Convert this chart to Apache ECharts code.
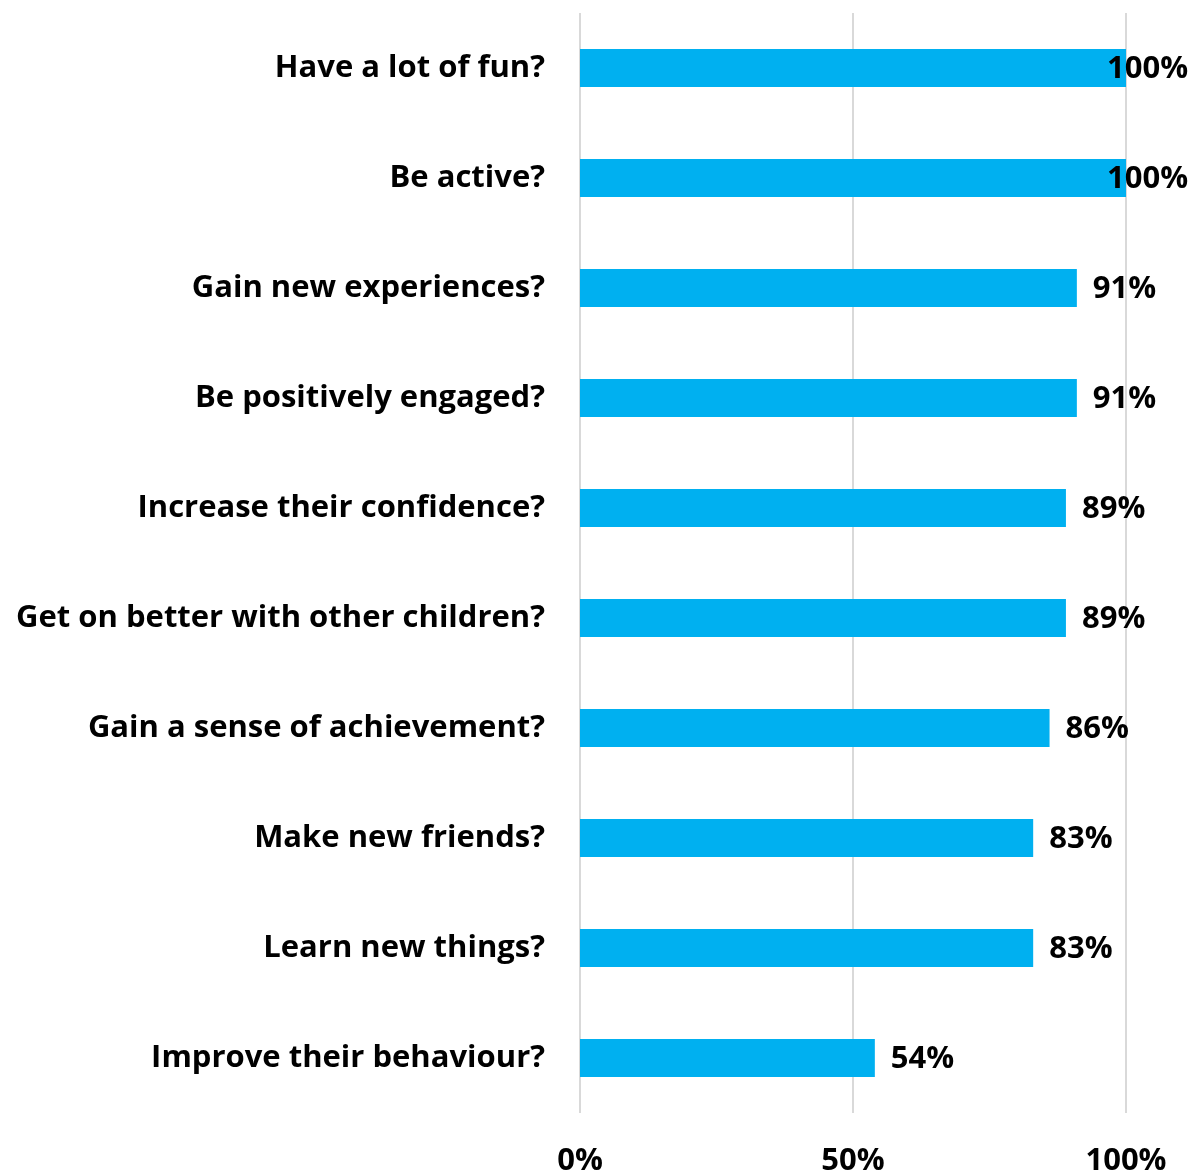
<!DOCTYPE html>
<html><head><meta charset="utf-8">
<script src="https://cdn.jsdelivr.net/npm/echarts@6/dist/echarts.min.js"></script>
<style>html,body{margin:0;padding:0;background:#fff}#c{width:1201px;height:1175px}</style>
</head><body><div id="c"></div>
<script>
const categories = [
  "Have a lot of fun?",
  "Be active?",
  "Gain new experiences?",
  "Be positively engaged?",
  "Increase their confidence?",
  "Get on better with other children?",
  "Gain a sense of achievement?",
  "Make new friends?",
  "Learn new things?",
  "Improve their behaviour?"
];
const values = [100, 100, 91, 91, 89, 89, 86, 83, 83, 54];
const xTicks = [0, 50, 100];

const FONT = "Open Sans";
const chart = echarts.init(document.getElementById('c'));
chart.setOption({
  animation: false,
  grid: { left: 580, right: 75, top: 13, bottom: 62, containLabel: false, outerBoundsMode: 'none' },
  xAxis: {
    type: 'value', min: 0, max: 100, interval: 50,
    axisLine: { show: false }, axisTick: { show: false },
    splitLine: { show: true, lineStyle: { color: '#D9D9D9', width: 2 } },
    axisLabel: { formatter: v => v + '%', color: '#000', fontFamily: FONT, fontWeight: 'bold', fontSize: 31, margin: 33, hideOverlap: false }
  },
  yAxis: {
    type: 'category', inverse: true, data: categories,
    axisLine: { show: false }, axisTick: { show: false },
    axisLabel: { color: '#000', fontFamily: FONT, fontWeight: 'bold', fontSize: 31, margin: 35 }
  },
  series: [{
    type: 'bar', barWidth: 38,
    data: values.map(v => ({
      value: v,
      label: v >= 100 ? { offset: [-35, 1] } : {}
    })),
    itemStyle: { color: '#00B0F0' },
    label: {
      show: true, position: 'right', distance: 16, offset: [0, 1],
      formatter: p => p.value + '%',
      color: '#000', fontFamily: FONT, fontWeight: 'bold', fontSize: 31
    }
  }]
});
</script></body></html>
